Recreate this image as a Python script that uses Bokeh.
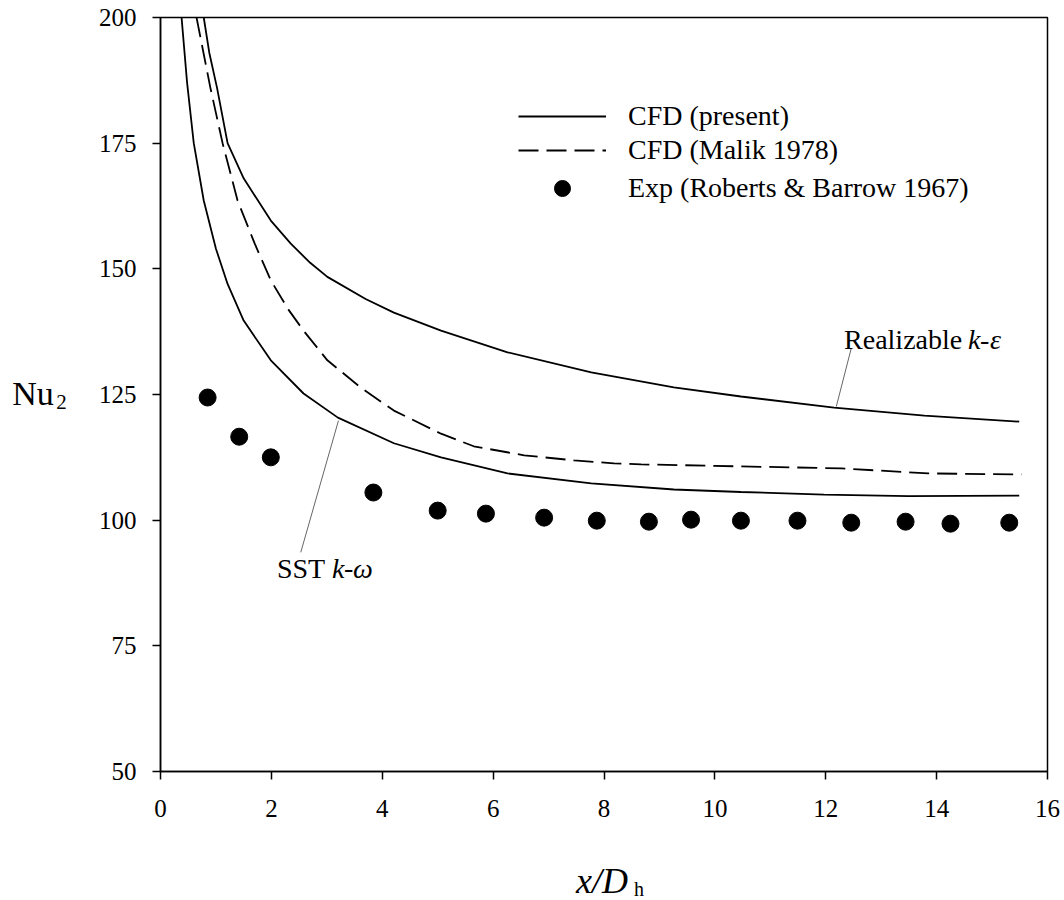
from bokeh.plotting import figure
from bokeh.models import (Range1d, FixedTicker, Label, Legend, LegendItem)
from bokeh.embed import file_html
from bokeh.resources import INLINE

# --- data -------------------------------------------------------------
# CFD (present), Realizable k-epsilon
rke_x = [0.78, 0.88, 1.02, 1.21, 1.5, 1.99, 2.35, 2.7, 3.01, 3.7, 4.21, 5.06,
         6.26, 7.77, 9.26, 10.47, 12.15, 13.78, 15.49]
rke_y = [200, 193, 186, 175, 168, 159.6, 155, 151.2, 148.4, 144, 141.3, 137.7,
         133.4, 129.4, 126.4, 124.6, 122.4, 120.8, 119.6]

# CFD (present), SST k-omega
sst_x = [0.38, 0.48, 0.6, 0.78, 1.0, 1.21, 1.5, 1.99, 2.58, 3.2, 4.21, 5.06,
         6.26, 7.77, 9.26, 10.47, 11.97, 13.49, 15.49]
sst_y = [200, 187, 175, 163.6, 154, 147, 139.7, 131.8, 125.2, 120.4, 115.3, 112.5,
         109.3, 107.3, 106.1, 105.6, 105.1, 104.8, 104.9]

# CFD (Malik 1978)
malik_x = [0.65, 0.9, 1.12, 1.39, 1.7, 1.99, 2.3, 2.58, 3.01, 3.61, 4.21, 5.06,
           5.65, 6.56, 7.46, 8.18, 8.67, 10.47, 12.28, 13.85, 15.53]
malik_y = [200, 186, 175, 163.6, 155, 147.7, 142, 137.7, 131.8, 126.4, 121.8, 117.2,
           114.7, 112.9, 111.9, 111.3, 111.1, 110.7, 110.3, 109.3, 109.1]

# Exp (Roberts & Barrow 1967)
exp_x = [0.85, 1.42, 1.99, 3.84, 5.0, 5.87, 6.92, 7.87, 8.81, 9.57, 10.47, 11.49,
         12.46, 13.44, 14.25, 15.31]
exp_y = [124.4, 116.6, 112.5, 105.5, 101.9, 101.3, 100.5, 99.9, 99.7, 100.1, 99.9,
         99.9, 99.5, 99.7, 99.3, 99.5]

x_ticks = [0, 2, 4, 6, 8, 10, 12, 14, 16]
y_ticks = [50, 75, 100, 125, 150, 175, 200]

FONT = "Liberation Serif"

# --- figure -----------------------------------------------------------
p = figure(width=1064, height=900, output_backend="svg", toolbar_location=None,
           x_range=Range1d(0, 16), y_range=Range1d(50, 200),
           min_border_left=160, min_border_right=17, min_border_top=17,
           min_border_bottom=129)
p.background_fill_color = "white"
p.border_fill_color = "white"
p.grid.visible = False
p.outline_line_color = "black"
p.outline_line_width = 1.5

for ax in (p.xaxis[0], p.yaxis[0]):
    ax.axis_line_color = "black"
    ax.axis_line_width = 1.5
    ax.major_tick_line_color = "black"
    ax.major_tick_line_width = 1.5
    ax.major_tick_out = 8
    ax.major_tick_in = 0
    ax.minor_tick_line_color = None
    ax.major_label_text_font = FONT
    ax.major_label_text_font_size = "25px"
    ax.major_label_text_color = "black"

p.xaxis[0].ticker = FixedTicker(ticks=x_ticks)
p.yaxis[0].ticker = FixedTicker(ticks=y_ticks)
p.xaxis[0].major_label_standoff = 20
p.yaxis[0].major_label_standoff = 16

# --- series -----------------------------------------------------------
r_rke = p.line(rke_x, rke_y, line_color="black", line_width=1.8)
r_sst = p.line(sst_x, sst_y, line_color="black", line_width=1.8)
r_malik = p.line(malik_x, malik_y, line_color="black", line_width=1.8,
                 line_dash="20 8")
r_exp = p.scatter(exp_x, exp_y, size=17, marker="circle",
                  fill_color="black", line_color="black")

# leader lines for the model annotations
p.segment(x0=[12.19, 3.21], y0=[122.6, 119.8], x1=[12.46, 2.53], y1=[134.2, 93.6],
          line_color="#666666", line_width=1)


def make_text(x, y, text, size, style="normal", x_off=0, y_off=0):
    return Label(x=x, y=y, text=text, x_offset=x_off, y_offset=y_off,
                 text_font=FONT, text_font_size=size,
                 text_font_style=style, text_color="black",
                 text_baseline="alphabetic", text_align="left")


# "Realizable k-ε"
p.add_layout(make_text(12.33, 135.9, "Realizable", "28px"))
p.add_layout(make_text(12.33, 135.9, "k", "28px", "italic", x_off=124))
p.add_layout(make_text(12.33, 135.9, "-", "28px", x_off=136))
p.add_layout(make_text(12.33, 135.9, "ε", "28px", "italic", x_off=146))

# "SST k-ω"
p.add_layout(make_text(2.1, 90.4, "SST", "28px"))
p.add_layout(make_text(2.1, 90.4, "k", "28px", "italic", x_off=55))
p.add_layout(make_text(2.1, 90.4, "-", "28px", x_off=67))
p.add_layout(make_text(2.1, 90.4, "ω", "28px", "italic", x_off=76))

# axis titles, set in the side panels so they sit outside the frame
p.add_layout(make_text(-2.673, 125.2, "Nu", "34px"), "left")
p.add_layout(make_text(-1.88, 123.6, "2", "21px"), "left")
p.add_layout(make_text(7.494, 28.3, "x/D", "36px", "italic"), "below")
p.add_layout(make_text(8.54, 26.6, "h", "20px"), "below")

# --- legend -----------------------------------------------------------
legend_style = dict(glyph_width=88, label_standoff=22, padding=0, margin=0,
                    border_line_color=None, background_fill_alpha=0,
                    label_text_font=FONT, label_text_font_size="28px",
                    label_text_color="black")
leg_lines = Legend(items=[LegendItem(label="CFD (present)", renderers=[r_rke]),
                          LegendItem(label="CFD (Malik 1978)", renderers=[r_malik])],
                   location=(358, 605), glyph_height=28, label_height=28,
                   spacing=2, **legend_style)
leg_dot = Legend(items=[LegendItem(label="Exp (Roberts & Barrow 1967)",
                                   renderers=[r_exp])],
                 location=(358, 563), glyph_height=40, label_height=40,
                 spacing=0, **legend_style)
p.add_layout(leg_lines)
p.add_layout(leg_dot)

open("out.html", "w").write(file_html(p, INLINE))
